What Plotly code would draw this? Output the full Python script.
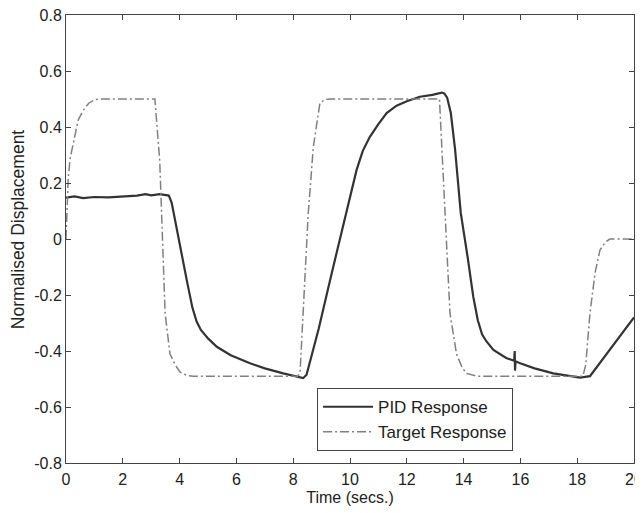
import plotly.graph_objects as go

# PID response
pid_t = [0, 0.3, 0.6, 1.0, 1.5, 2.0, 2.5, 2.8, 3.0, 3.3, 3.5, 3.62, 3.72, 3.85, 4.01, 4.25,
         4.45, 4.6, 4.75, 5.0, 5.31, 5.8, 6.48, 7.0, 7.65, 8.0, 8.2, 8.35, 8.47, 8.9, 9.3,
         9.65, 10.0, 10.23, 10.45, 10.7, 11.0, 11.29, 11.64, 12.0, 12.46, 12.9, 13.23, 13.32,
         13.42, 13.55, 13.7, 13.9, 14.15, 14.34, 14.5, 14.65, 14.8, 15.05, 15.5, 15.78, 15.8,
         15.81, 15.83, 15.99, 16.5, 17.16, 17.6, 18.1, 18.45, 19.2, 20.0]
pid_v = [0.148, 0.152, 0.146, 0.150, 0.149, 0.152, 0.155, 0.160, 0.156, 0.160, 0.158, 0.155,
         0.13, 0.06, -0.03, -0.146, -0.245, -0.295, -0.325, -0.355, -0.385, -0.415, -0.444,
         -0.462, -0.48, -0.488, -0.494, -0.497, -0.485, -0.32, -0.146, 0.0, 0.151, 0.246,
         0.315, 0.365, 0.41, 0.45, 0.476, 0.492, 0.508, 0.515, 0.523, 0.52, 0.505, 0.45,
         0.32, 0.093, -0.07, -0.206, -0.29, -0.34, -0.365, -0.396, -0.425, -0.435, -0.40,
         -0.47, -0.437, -0.444, -0.462, -0.48, -0.488, -0.495, -0.49, -0.39, -0.28]

# Target response
tgt_t = [0, 0.04, 0.08, 0.15, 0.26, 0.43, 0.61, 0.8, 1.0, 1.2, 3.13, 3.3, 3.37, 3.49, 3.66,
         3.85, 4.01, 4.25, 4.48, 8.15, 8.24, 8.42, 8.53, 8.71, 8.85, 8.94, 9.1, 9.3, 13.15,
         13.29, 13.52, 13.75, 13.95, 14.11, 14.46, 18.2, 18.3, 18.45, 18.63, 18.8, 19.0,
         19.15, 20.0]
tgt_v = [0.0, 0.12, 0.22, 0.29, 0.34, 0.425, 0.46, 0.485, 0.497, 0.5, 0.5, 0.28, 0.08,
         -0.265, -0.41, -0.45, -0.475, -0.487, -0.49, -0.49, -0.48, -0.146, 0.093, 0.33,
         0.43, 0.485, 0.497, 0.5, 0.5, 0.21, -0.265, -0.41, -0.46, -0.48, -0.49, -0.49,
         -0.45, -0.265, -0.12, -0.04, -0.01, 0.0, 0.0]

x_ticks = [0, 2, 4, 6, 8, 10, 12, 14, 16, 18, 20]
y_ticks = [-0.8, -0.6, -0.4, -0.2, 0, 0.2, 0.4, 0.6, 0.8]
y_tick_text = ["-0.8", "-0.6", "-0.4", "-0.2", "0", "0.2", "0.4", "0.6", "0.8"]

fig = go.Figure()
fig.add_trace(go.Scatter(x=pid_t, y=pid_v, mode="lines", name="PID Response",
                         line=dict(color="#333333", width=2.2)))
fig.add_trace(go.Scatter(x=tgt_t, y=tgt_v, mode="lines", name="Target Response",
                         line=dict(color="#808080", width=1.5, dash="9px,3px,2px,3px")))

font = dict(family="Liberation Sans, Arial, sans-serif", size=16, color="#222222")
axis_common = dict(showline=True, linecolor="#444444", linewidth=1, mirror="ticks",
                   ticks="inside", ticklen=5, tickcolor="#444444", showgrid=False,
                   zeroline=False, tickfont=font, automargin=False,
                   ticklabeloverflow="allow")

fig.update_layout(
    width=635, height=505,
    margin=dict(l=58, r=9, t=7, b=50),
    paper_bgcolor="white", plot_bgcolor="white",
    font=font,
    xaxis=dict(range=[0, 20], tickvals=x_ticks, ticklabelstandoff=2,
               title=dict(text="Time (secs.)", font=dict(size=16), standoff=4),
               **axis_common),
    yaxis=dict(range=[-0.8, 0.8], tickvals=y_ticks, ticktext=y_tick_text, **axis_common),
    legend=dict(x=0.442, y=0.167, xanchor="left", yanchor="top", bgcolor="white",
                bordercolor="#444444", borderwidth=1, font=dict(size=17),
                tracegroupgap=0, itemwidth=50),
    showlegend=True,
    annotations=[dict(text="Normalised Displacement", xref="paper", yref="paper",
                      x=-0.0845, y=0.522, xanchor="center", yanchor="middle",
                      textangle=-90, showarrow=False, font=dict(size=17.5, color="#222222"))],
)

fig.write_html("out.html")
